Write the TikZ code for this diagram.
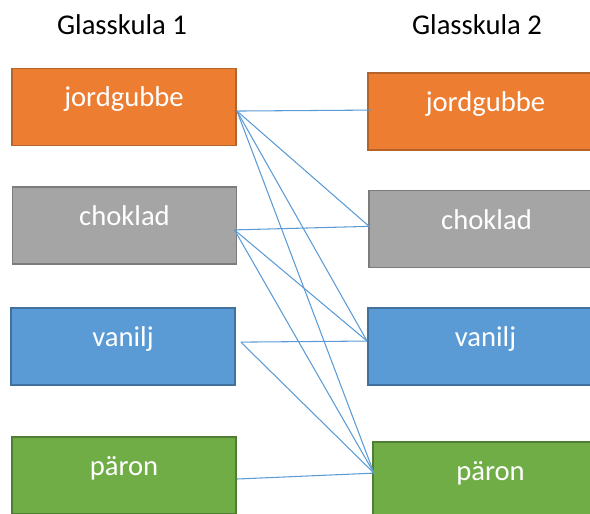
\documentclass[tikz,border=0pt]{standalone}
\usepackage{fontspec}
\setmainfont{Carlito}
\definecolor{jordfill}{HTML}{ED7D31}
\definecolor{jordline}{HTML}{B4632A}
\definecolor{chokfill}{HTML}{A5A5A5}
\definecolor{chokline}{HTML}{7C7C7C}
\definecolor{vanfill}{HTML}{5B9BD5}
\definecolor{vanline}{HTML}{41719C}
\definecolor{parfill}{HTML}{70AD47}
\definecolor{parline}{HTML}{507E32}
\definecolor{linkcol}{HTML}{5B9BD5}
\tikzset{flavour/.style={rectangle,line width=1.1pt,minimum width=4.48cm,minimum height=1.54cm,
        inner sep=0pt,text height=0.5cm,text depth=0.5cm,text=white,font=\fontsize{16.3}{19}\selectfont}}
\tikzset{jord/.style={flavour,draw=jordline,fill=jordfill},
         chok/.style={flavour,draw=chokline,fill=chokfill},
         van/.style={flavour,draw=vanline,fill=vanfill},
         par/.style={flavour,draw=parline,fill=parfill},
         wide/.style={minimum width=4.7cm}}
\tikzset{heading/.style={anchor=base,font=\fontsize{16.3}{19}\selectfont},
         link/.style={draw=linkcol,line width=0.6pt}}
\begin{document}
\begin{tikzpicture}[x=0.02cm,y=-0.02cm]
                    \useasboundingbox (0,0) rectangle (590,513);
                    \clip (0,0) rectangle (590,513);
                    % first scoop
                    \node[heading] (h1) at (122,35)    {Glasskula 1};
                    \node[jord] (l1) at (124,107)      {jordgubbe};
                    \node[chok] (l2) at (124.5,225.5)  {choklad};
                    \node[van]  (l3) at (123,346.5)    {vanilj};
                    \node[par]  (l4) at (124,475.5)    {päron};
                    % second scoop, boxes run past the right edge
                    \node[heading] (h2) at (477,35)    {Glasskula 2};
                    \node[jord,wide] (r1) at (485.5,111.5) {jordgubbe};
                    \node[chok,wide] (r2) at (486.5,229)   {choklad};
                    \node[van,wide]  (r3) at (485.5,346.5) {vanilj};
                    \node[par,wide]  (r4) at (490.5,480.5) {päron};
                    % where the lines meet the boxes
                    \coordinate (l1-out) at ([yshift=-2.3pt]l1.east);
                    \coordinate (l2-out) at ([xshift=-1.7pt,yshift=-2.5pt]l2.east);
                    \coordinate (l3-out) at ([xshift=2.8pt,yshift=2.5pt]l3.east);
                    \coordinate (l4-out) at ([yshift=-2pt]l4.east);
                    \coordinate (r1-in) at ([xshift=2.3pt,yshift=0.8pt]r1.west);
                    \coordinate (r2-in) at ([xshift=0.6pt,yshift=1.5pt]r2.west);
                    \coordinate (r3-in) at ([yshift=3.1pt]r3.west);
                    \coordinate (r4-in) at ([xshift=1.1pt,yshift=4.2pt]r4.west);
                    \path[link]
                        (l1-out) edge (r1-in)
                        (l1-out) edge (r2-in)
                        (l1-out) edge (r3-in)
                        (l1-out) edge (r4-in)
                        (l2-out) edge (r2-in)
                        (l2-out) edge (r3-in)
                        (l2-out) edge (r4-in)
                        (l3-out) edge (r3-in)
                        (l3-out) edge (r4-in)
                        (l4-out) edge (r4-in)
                    ;
                \end{tikzpicture}
\end{document}
